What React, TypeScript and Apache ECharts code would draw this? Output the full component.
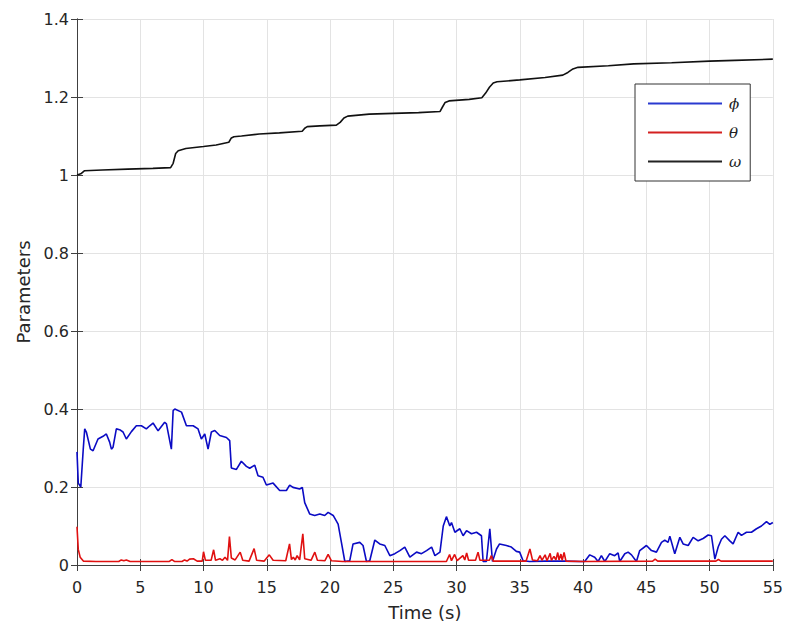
import React, { useEffect, useRef } from "react";
import * as echarts from "echarts";

const xTicks = [0, 5, 10, 15, 20, 25, 30, 35, 40, 45, 50, 55];
const yTicks = [0, 0.2, 0.4, 0.6, 0.8, 1, 1.2, 1.4];

const omegaT = [0, 0.3, 0.6, 2, 4, 6, 7.4, 7.6, 7.8, 8.0, 8.6, 10, 11, 12.0, 12.2, 12.4, 13, 14.4, 16, 17.8, 18.0, 18.2, 19.2, 20.5, 20.8, 21.1, 21.4, 23.1, 25, 27, 28.7, 28.9, 29.1, 29.4, 31, 32.0, 32.3, 32.6, 32.9, 33.2, 35, 37, 38.4, 38.8, 39.2, 39.6, 42, 44, 47, 50, 52, 55];
const omegaV = [1.0, 1.003, 1.011, 1.013, 1.015, 1.017, 1.019, 1.03, 1.055, 1.062, 1.068, 1.073, 1.077, 1.084, 1.095, 1.098, 1.1, 1.105, 1.108, 1.112, 1.12, 1.124, 1.126, 1.128, 1.135, 1.146, 1.151, 1.156, 1.158, 1.16, 1.163, 1.175, 1.186, 1.19, 1.194, 1.198, 1.21, 1.225, 1.236, 1.239, 1.244, 1.25, 1.256, 1.263, 1.272, 1.276, 1.28, 1.285, 1.288, 1.292, 1.294, 1.297];

const phiT = [0, 0.1, 0.3, 0.5, 0.61, 0.74, 1.06, 1.27, 1.66, 2.06, 2.32, 2.58, 2.72, 2.85, 3.11, 3.37, 3.64, 3.9, 4.3, 4.69, 5.09, 5.48, 5.75, 6.01, 6.41, 6.93, 7.07, 7.46, 7.6, 7.73, 8.26, 8.65, 9.18, 9.57, 9.83, 10.1, 10.36, 10.62, 10.89, 11.28, 11.81, 12.07, 12.2, 12.6, 12.99, 13.39, 13.65, 14.05, 14.31, 14.7, 14.97, 15.5, 16.02, 16.55, 16.81, 17.07, 17.6, 17.81, 18.0, 18.39, 18.79, 19.19, 19.58, 19.85, 20.25, 20.64, 20.9, 21.17, 21.56, 21.82, 22.35, 22.61, 22.88, 23.14, 23.54, 23.93, 24.33, 24.73, 25.12, 25.52, 25.91, 26.31, 26.84, 27.23, 27.63, 28.03, 28.29, 28.69, 28.95, 29.2, 29.47, 29.6, 29.87, 30.26, 30.52, 30.79, 31.18, 31.58, 31.97, 32.1, 32.36, 32.63, 32.84, 33.16, 33.4, 33.94, 34.33, 34.73, 34.99, 35.26, 35.78, 37, 38.5, 39.74, 40.13, 40.53, 40.92, 41.19, 41.45, 41.72, 42.11, 42.5, 42.77, 42.9, 43.3, 43.56, 43.83, 44.22, 44.48, 45.01, 45.41, 45.8, 46.2, 46.46, 46.72, 46.86, 47.25, 47.65, 47.91, 48.31, 48.7, 49.1, 49.49, 49.89, 50.15, 50.42, 50.68, 50.94, 51.21, 51.6, 51.86, 52.26, 52.52, 52.92, 53.31, 53.71, 54.1, 54.5, 54.76, 55];
const phiV = [0.29, 0.21, 0.2, 0.3, 0.349, 0.341, 0.297, 0.293, 0.323, 0.33, 0.336, 0.315, 0.297, 0.302, 0.349, 0.347, 0.341, 0.323, 0.342, 0.357, 0.357, 0.349, 0.357, 0.364, 0.344, 0.366, 0.362, 0.297, 0.396, 0.4, 0.392, 0.357, 0.357, 0.349, 0.323, 0.336, 0.297, 0.341, 0.345, 0.332, 0.327, 0.319, 0.249, 0.245, 0.266, 0.253, 0.248, 0.256, 0.229, 0.225, 0.205, 0.21, 0.191, 0.191, 0.205, 0.199, 0.195, 0.199, 0.16, 0.131, 0.127, 0.131, 0.127, 0.135, 0.127, 0.105, 0.058, 0.009, 0.011, 0.054, 0.058, 0.05, 0.009, 0.011, 0.064, 0.054, 0.05, 0.024, 0.029, 0.037, 0.046, 0.02, 0.033, 0.029, 0.037, 0.046, 0.024, 0.033, 0.1, 0.124, 0.1, 0.109, 0.084, 0.093, 0.075, 0.088, 0.08, 0.084, 0.075, 0.009, 0.009, 0.093, 0.009, 0.041, 0.054, 0.05, 0.046, 0.035, 0.033, 0.011, 0.009, 0.01, 0.01, 0.009, 0.009, 0.026, 0.02, 0.009, 0.024, 0.009, 0.029, 0.024, 0.031, 0.009, 0.029, 0.033, 0.026, 0.009, 0.037, 0.05, 0.037, 0.033, 0.058, 0.064, 0.058, 0.074, 0.029, 0.071, 0.054, 0.05, 0.071, 0.062, 0.068, 0.077, 0.075, 0.015, 0.046, 0.066, 0.075, 0.062, 0.054, 0.084, 0.076, 0.084, 0.084, 0.093, 0.1, 0.111, 0.104, 0.109];

const thetaT = [0, 0.1, 0.25, 0.5, 1.5, 3.3, 3.5, 3.7, 3.9, 4.2, 7.3, 7.5, 7.7, 8.3, 8.5, 8.7, 8.9, 9.2, 9.5, 9.9, 10.0, 10.15, 10.6, 10.8, 10.95, 11.3, 11.5, 11.7, 11.9, 12.05, 12.2, 12.5, 12.9, 13.1, 13.6, 14.0, 14.2, 14.8, 15.2, 15.5, 16.5, 16.8, 16.95, 17.1, 17.25, 17.4, 17.6, 17.85, 18.0, 18.5, 18.8, 19.0, 19.6, 19.85, 20.1, 21, 25, 29.2, 29.45, 29.6, 29.85, 30.05, 30.5, 30.65, 30.8, 30.95, 31.5, 31.7, 31.85, 32.6, 32.75, 32.9, 35.5, 35.8, 36.0, 36.4, 36.6, 36.75, 37.0, 37.15, 37.4, 37.5, 37.7, 37.85, 38.0, 38.1, 38.25, 38.35, 38.5, 38.65, 40, 45.5, 45.7, 45.9, 50.5, 50.7, 50.9, 55];
const thetaV = [0.098, 0.04, 0.02, 0.01, 0.009, 0.009, 0.013, 0.011, 0.013, 0.009, 0.009, 0.014, 0.009, 0.009, 0.013, 0.01, 0.015, 0.016, 0.01, 0.01, 0.034, 0.012, 0.012, 0.039, 0.012, 0.016, 0.012, 0.02, 0.012, 0.073, 0.018, 0.013, 0.033, 0.012, 0.01, 0.042, 0.012, 0.01, 0.026, 0.012, 0.011, 0.054, 0.014, 0.02, 0.013, 0.024, 0.013, 0.08, 0.016, 0.012, 0.033, 0.012, 0.011, 0.027, 0.011, 0.009, 0.009, 0.009, 0.027, 0.011, 0.027, 0.011, 0.024, 0.013, 0.031, 0.012, 0.012, 0.033, 0.012, 0.012, 0.024, 0.01, 0.01, 0.041, 0.013, 0.011, 0.024, 0.012, 0.026, 0.011, 0.03, 0.012, 0.022, 0.013, 0.032, 0.013, 0.028, 0.012, 0.032, 0.01, 0.009, 0.01, 0.015, 0.01, 0.01, 0.014, 0.01, 0.01];

const seriesNames = ["ϕ", "θ", "ω"];

const zip = (t: number[], v: number[]) => t.map((x, i) => [x, v[i]]);

export default function App() {
  const ref = useRef<HTMLDivElement>(null);
  useEffect(() => {
    if (!ref.current) return;
    const chart = echarts.init(ref.current, null, { renderer: "svg" });
    const axisCol = "#404040";
    const gridCol = "#e3e3e3";
    const font = "DejaVu Sans, sans-serif";
    const fmt = (v: number) => (Math.abs(v - 1) < 1e-9 ? "1" : Math.abs(v) < 1e-9 ? "0" : v.toFixed(1));
    chart.setOption({
      animation: false,
      backgroundColor: "#ffffff",
      grid: { left: 77, right: 13, top: 19, bottom: 60, containLabel: false },
      legend: {
        orient: "vertical",
        left: 635,
        top: 84,
        padding: [12, 9, 12, 13],
        itemGap: 14,
        itemWidth: 74,
        itemHeight: 2,
        icon: "rect",
        backgroundColor: "#ffffff",
        borderColor: "#333333",
        borderWidth: 1,
        borderRadius: 0,
        textStyle: { fontFamily: "DejaVu Serif, serif", fontStyle: "italic", fontSize: 15, color: "#222", padding: [0, 0, 0, 2] },
        data: seriesNames,
      },
      xAxis: [
        {
          type: "value",
          min: xTicks[0],
          max: xTicks[xTicks.length - 1],
          interval: 5,
          name: "Time (s)",
          nameLocation: "middle",
          nameGap: 38,
          nameTextStyle: { fontFamily: font, fontSize: 18, color: "#262626" },
          axisLine: { show: true, lineStyle: { color: axisCol, width: 1 } },
          axisTick: { show: true, inside: true, length: 6, lineStyle: { color: axisCol } },
          axisLabel: { fontFamily: font, fontSize: 16, color: "#262626", margin: 14 },
          splitLine: { show: true, lineStyle: { color: gridCol, width: 1 } },
        },
        {
          type: "value",
          position: "top",
          min: xTicks[0],
          max: xTicks[xTicks.length - 1],
          interval: 5,
          axisLine: { show: true, lineStyle: { color: axisCol, width: 1 } },
          axisTick: { show: true, inside: true, length: 6, lineStyle: { color: axisCol } },
          axisLabel: { show: false },
          splitLine: { show: false },
        },
      ],
      yAxis: [
        {
          type: "value",
          min: yTicks[0],
          max: yTicks[yTicks.length - 1],
          interval: 0.2,
          name: "Parameters",
          nameLocation: "middle",
          nameGap: 43,
          nameTextStyle: { fontFamily: font, fontSize: 18, color: "#262626" },
          axisLine: { show: true, lineStyle: { color: axisCol, width: 1 } },
          axisTick: { show: true, inside: true, length: 6, lineStyle: { color: axisCol } },
          axisLabel: { fontFamily: font, fontSize: 16, color: "#262626", margin: 8, formatter: fmt },
          splitLine: { show: true, lineStyle: { color: gridCol, width: 1 } },
        },
        {
          type: "value",
          position: "right",
          min: yTicks[0],
          max: yTicks[yTicks.length - 1],
          interval: 0.2,
          axisLine: { show: true, lineStyle: { color: axisCol, width: 1 } },
          axisTick: { show: true, inside: true, length: 6, lineStyle: { color: axisCol } },
          axisLabel: { show: false },
          splitLine: { show: false },
        },
      ],
      series: [
        {
          name: seriesNames[0],
          type: "line",
          data: zip(phiT, phiV),
          showSymbol: false,
          symbol: "none",
          lineStyle: { color: "#0b0bc4", width: 1.6 },
          itemStyle: { color: "#2a3ad0" },
          z: 3,
        },
        {
          name: seriesNames[1],
          type: "line",
          data: zip(thetaT, thetaV),
          showSymbol: false,
          symbol: "none",
          lineStyle: { color: "#e01010", width: 1.6 },
          itemStyle: { color: "#d42020" },
          z: 4,
        },
        {
          name: seriesNames[2],
          type: "line",
          data: zip(omegaT, omegaV),
          showSymbol: false,
          symbol: "none",
          lineStyle: { color: "#111111", width: 1.6 },
          itemStyle: { color: "#222222" },
          z: 5,
        },
      ],
    });
    return () => chart.dispose();
  }, []);
  return <div ref={ref} style={{ width: 786, height: 626, position: "absolute", left: 0, top: 0 }} />;
}
